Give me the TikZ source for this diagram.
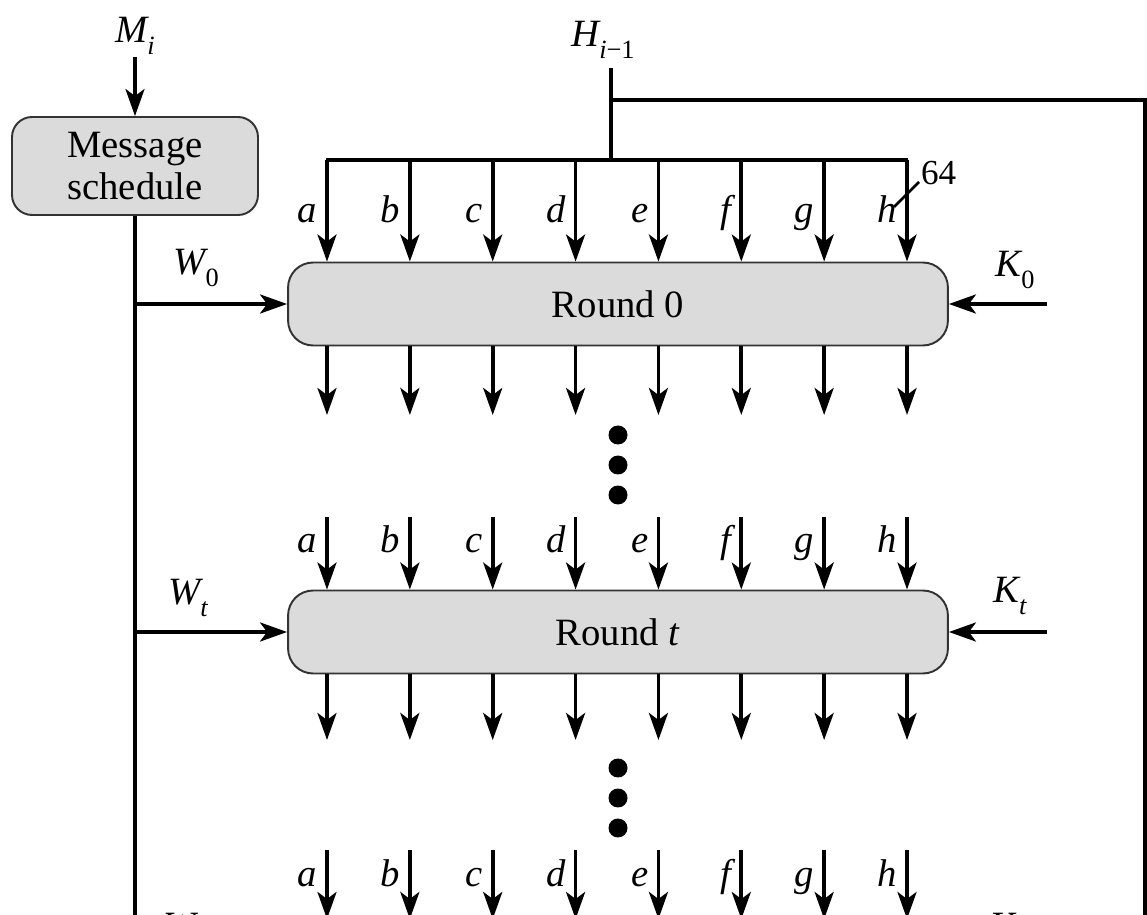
\documentclass[tikz,border=0pt]{standalone}
\usepackage{fontspec}
\setmainfont{Liberation Serif}
\usetikzlibrary{positioning, arrows.meta, calc}
\newcommand{\lowidx}[1]{\raisebox{-0.32em}{\fontsize{15}{16}\selectfont #1}}
\tikzset{
	roundbox/.style={rectangle, draw=black!80, line width=1.1pt, rounded corners=0.5cm,
		fill=black!14, minimum height=1.66cm, minimum width=13.2cm,
		align=center, font=\fontsize{22}{24}\selectfont, inner sep=3pt},
	schedbox/.style={roundbox, rounded corners=0.4cm,
		minimum height=1.96cm, minimum width=4.92cm},
	busline/.style={line width=2.1pt, draw=black},
	busarr/.style={-{Stealth[length=0.54cm, width=0.38cm, inset=0.14cm]}, busline},
	varlabel/.style={font=\fontsize{22}{24}\selectfont\itshape, inner sep=1pt},
	wirelabel/.style={varlabel, anchor=base east},
	bitlabel/.style={font=\fontsize{20}{22}\selectfont, inner sep=1pt}
}

\begin{document}
\begin{tikzpicture}[x=0.02cm, y=-0.02cm]
	\useasboundingbox (0,0) rectangle (1147,915);
	\clip (0,0) rectangle (1147,915);

	% message schedule column
	\node[varlabel] (mtxt) at (135,36) {M\lowidx{i}};
	\node[schedbox] (msg) at (135,166) {Message\\schedule};
	\coordinate (mbot) at (135,940);
	\draw[busarr] (mtxt.south) -- (msg.north);
	\draw[busline] (msg.south) -- (mbot);

	% rounds
	\node[roundbox] (r0) at (618,304) {Round 0};
	\node[roundbox] (rt) at (618,632) {Round \textit{t}};

	% chaining value input
	\node[varlabel] (htxt) at (603,40) {H\lowidx{i\textup{−1}}};
	\coordinate (htop) at (611,68);
	\coordinate (hbus) at (611,160);
	\coordinate (hsplit) at (611,100);
	\coordinate (hcorner) at (1145,100);
	\coordinate (hbot) at (1145,940);
	\draw[busline] (htop) -- (hbus);
	\draw[busline] (hsplit) -- (hcorner) -- (hbot);
	\draw[busline] (326,160) -- (908,160);

	\foreach \l [count=\i from 0] in {a,b,c,d,e,f,g,h} {
		\coordinate (in0-\l) at ({327+\i*82.86},160);
		\coordinate (out0-\l) at ({327+\i*82.86},415);
		\coordinate (int-\l) at ({327+\i*82.86},517);
		\coordinate (outt-\l) at ({327+\i*82.86},740);
		\coordinate (inz-\l) at ({327+\i*82.86},850);
		\coordinate (endz-\l) at ({327+\i*82.86},919);
		\draw[busarr] (in0-\l) -- (in0-\l |- r0.north);
		\draw[busarr] (in0-\l |- r0.south) -- (out0-\l);
		\draw[busarr] (int-\l) -- (int-\l |- rt.north);
		\draw[busarr] (int-\l |- rt.south) -- (outt-\l);
		\draw[busarr] (inz-\l) -- (endz-\l);
		\node[wirelabel] (lab0-\l) at ({319+\i*82.86},223) {\l};
		\node[wirelabel] (labt-\l) at ({319+\i*82.86},553) {\l};
		\node[wirelabel] (labz-\l) at ({319+\i*82.86},886) {\l};
	}

	% word size mark
	\coordinate (slash-a) at (894,207);
	\coordinate (slash-b) at (919,182);
	\draw[line width=1.5pt] (slash-a) -- (slash-b);
	\node[bitlabel, anchor=west] (bits) at (919,173) {64};

	% dots between rounds
	\foreach \y in {435,465,495,768,798,828}
		\fill (618,\y) circle (0.19cm);

	% message words and constants
	\node[varlabel] (w0) at (196,268) {W\lowidx{\textup{0}}};
	\node[varlabel] (wt) at (188,598) {W\lowidx{t}};
	\node[varlabel] (k0) at (1015,270) {K\lowidx{\textup{0}}};
	\node[varlabel] (kt) at (1010,596) {K\lowidx{t}};
	\coordinate (kin0) at (1047,304);
	\coordinate (kint) at (1047,632);
	\draw[busarr] (mbot |- r0.west) -- (r0.west);
	\draw[busarr] (mbot |- rt.west) -- (rt.west);
	\draw[busarr] (kin0) -- (r0.east);
	\draw[busarr] (kint) -- (rt.east);

	% next round, cut off by the frame
	\node[varlabel] (wz) at (180,926) {W};
	\node[varlabel] (kz) at (1002,926) {K};
\end{tikzpicture}
\end{document}
